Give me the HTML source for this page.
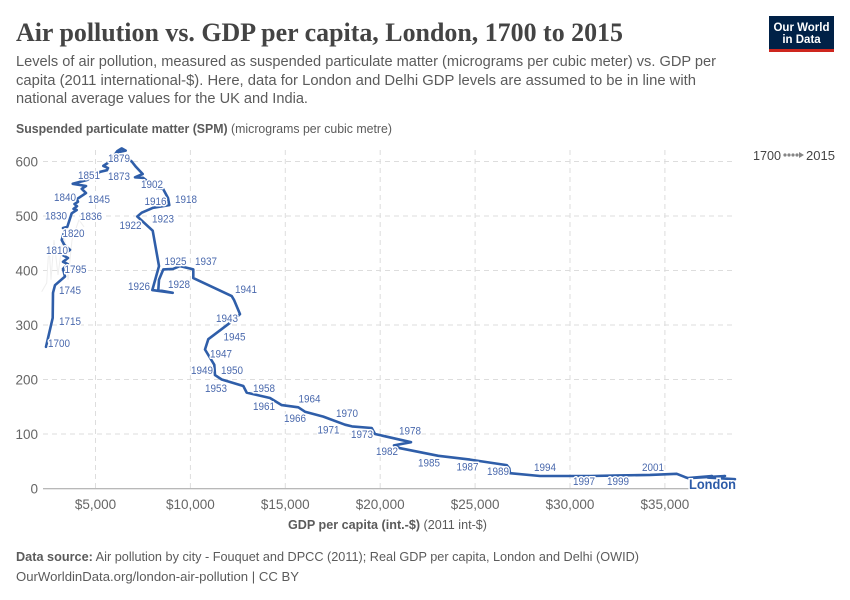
<!DOCTYPE html>
<html lang="en">
<head>
<meta charset="utf-8">
<title>Air pollution vs. GDP per capita, London, 1700 to 2015</title>
<style>
html,body{margin:0;padding:0;background:#fff;width:850px;height:600px;overflow:hidden}
svg{display:block}
text{font-family:"Liberation Sans",sans-serif}
.year-label{font-size:11.2px;fill:#4a69ad;stroke:#fff;stroke-width:3px;paint-order:stroke;stroke-linejoin:round}
.tick{font-size:13.5px;fill:#666}
</style>
</head>
<body>
<svg id="chart" xmlns="http://www.w3.org/2000/svg" width="850" height="600" viewBox="0 0 850 600">
  <text x="16" y="41" font-size="26" font-weight="700" fill="#444" textLength="607" lengthAdjust="spacingAndGlyphs" style="font-family:'Liberation Serif',serif">Air pollution vs. GDP per capita, London, 1700 to 2015</text>
  <g font-size="14.5" fill="#5b5b5b">
    <text x="16" y="66" textLength="700" lengthAdjust="spacingAndGlyphs">Levels of air pollution, measured as suspended particulate matter (micrograms per cubic meter) vs. GDP per</text>
    <text x="16" y="85" textLength="680" lengthAdjust="spacingAndGlyphs">capita (2011 international-$). Here, data for London and Delhi GDP levels are assumed to be in line with</text>
    <text x="16" y="103" textLength="292" lengthAdjust="spacingAndGlyphs">national average values for the UK and India.</text>
  </g>
  <g>
    <rect x="769" y="16" width="65" height="33" fill="#002147"/>
    <rect x="769" y="49" width="65" height="3" fill="#ce261e"/>
    <text x="801.5" y="31" font-size="11.5" font-weight="700" fill="#fff" text-anchor="middle">Our World</text>
    <text x="801.5" y="43" font-size="11.5" font-weight="700" fill="#fff" text-anchor="middle">in Data</text>
  </g>
  <text x="16" y="133" font-size="12.5" fill="#5b5b5b" textLength="376" lengthAdjust="spacingAndGlyphs"><tspan font-weight="700">Suspended particulate matter (SPM)</tspan> (micrograms per cubic metre)</text>
  <text x="288" y="529" font-size="12.5" fill="#5b5b5b" textLength="199" lengthAdjust="spacingAndGlyphs"><tspan font-weight="700">GDP per capita (int.-$)</tspan> (2011 int-$)</text>
  <g id="grid"></g>
  <g id="yticks"></g>
  <g id="xticks"></g>
  <line x1="43" x2="736" y1="488.7" y2="488.7" stroke="#a1a1a1" stroke-width="1"/>
  <g id="marks"></g>
  <g id="labels"></g>
  <text x="689" y="489" font-size="13.5" font-weight="700" fill="#2c5ba8" stroke="#fff" stroke-width="3" paint-order="stroke" textLength="47" lengthAdjust="spacingAndGlyphs">London</text>
  <g>
    <text x="753" y="160" font-size="13" fill="#444" textLength="28" lengthAdjust="spacingAndGlyphs">1700</text>
    <g fill="#858585">
      <circle cx="785" cy="155" r="1.6"/><circle cx="789" cy="155" r="1.6"/><circle cx="793" cy="155" r="1.6"/><circle cx="797" cy="155" r="1.6"/>
      <polygon points="799,152 804,155 799,158"/>
    </g>
    <text x="806" y="160" font-size="13" fill="#444" textLength="29" lengthAdjust="spacingAndGlyphs">2015</text>
  </g>
  <text x="16" y="561" font-size="13" fill="#5b5b5b" textLength="623" lengthAdjust="spacingAndGlyphs"><tspan font-weight="700">Data source:</tspan> Air pollution by city - Fouquet and DPCC (2011); Real GDP per capita, London and Delhi (OWID)</text>
  <text x="16" y="581" font-size="13" fill="#5b5b5b" textLength="283" lengthAdjust="spacingAndGlyphs">OurWorldinData.org/london-air-pollution | CC BY</text>
</svg>
<script>
const years = [1700,1715,1745,1760,1785,1795,1797,1799,1801,1803,1810,1816,1818,1820,1821,1822,1830,1833,1834,1835,1836,1838,1840,1842,1844,1845,1847,1849,1851,1855,1858,1860,1862,1870,1872,1873,1875,1879,1885,1890,1893,1895,1902,1905,1910,1916,1918,1920,1922,1923,1925,1926,1927,1928,1929,1930,1933,1935,1937,1938,1941,1942,1943,1944,1945,1947,1949,1950,1953,1957,1958,1961,1963,1964,1966,1968,1970,1971,1973,1974,1978,1980,1982,1985,1987,1989,1990,1991,1994,1997,1999,2001,2003,2005,2006,2008,2009,2011,2013,2015];
const gdpLondon = [2392,2745,2761,2866,3393,3288,3535,3288,3551,3288,3656,3356,3219,3393,3288,3514,3746,4009,3841,4025,3894,4078,4025,4499,4273,4499,3799,4552,5237,5606,5659,5411,5727,6149,6380,6591,6186,6907,7134,7487,7081,7503,8225,8557,8820,8889,8030,7434,7202,8014,8346,7993,9068,8309,8346,8572,9083,9452,10153,10153,12176,12298,12614,12087,10943,10770,11260,11297,11649,12788,12967,14194,14811,15686,16039,17003,18146,18515,19553,19727,21624,20728,21044,23062,24733,26666,26803,26840,28421,31055,32636,34217,35623,36061,36219,37483,36324,38168,37273,38695];
const spmLondon = [260,313,359,373,389,403,412,416,423,428,438,447,456,476,478,480,505,511,513,518,522,526,531,542,550,555,559,566,581,584,588,592,599,619,624,620,617,600,590,577,571,570,551,550,533,520,515,506,499,473,408,364,359,364,383,402,403,408,402,386,353,346,320,304,274,255,227,208,200,188,176,166,153,149,141,132,117,114,111,100,85,79,74,60,53,43,37,28,23,23,24,25,27,21,19,23,19,23,20,17];
const gdpDelhi = [2165,2429,2550,2655,2813,3024,3340,3551,3762,4131,4394];
const spmDelhi = [361,377,447,383,456,392,474,383,456,493,480];
const labelYears = [1700,1715,1745,1795,1810,1820,1830,1836,1840,1845,1851,1873,1879,1902,1916,1918,1922,1923,1925,1926,1928,1937,1941,1943,1945,1947,1949,1950,1953,1958,1961,1964,1966,1970,1971,1973,1978,1982,1985,1987,1989,1994,1997,1999,2001];
const yTickValues = [0,100,200,300,400,500,600];
const xTickValues = [5000,10000,15000,20000,25000,30000,35000];

/* label placement relative to each labelled point (layout, not data) */
const labelNudge = {1700:[13,-4],1715:[17.3,3],1745:[17,-3],1795:[12.5,0],1810:[-13,0],1820:[8.5,4],1830:[-15.7,2.2],1836:[16.5,12],1840:[-12,-2],1845:[13,13],1851:[-11,3],1873:[-6.7,25.5],1879:[-12.7,-3.7],1902:[-4.7,-4.3],1916:[-13.8,-4.3],1918:[33,-9],1922:[-6.8,8.3],1923:[10.3,-12.2],1925:[16.5,-5],1926:[-13.3,-4],1928:[20.7,-6],1937:[12.7,-8.3],1941:[14.3,-7],1943:[-13,4],1945:[26.2,-2.8],1947:[16,4.2],1949:[-12.3,5],1950:[17,-5],1953:[-5.7,8.7],1958:[17.3,-4.7],1961:[-6,8.2],1964:[11.2,-8.8],1966:[-10,6.3],1970:[2,-11.5],1971:[-23.5,3.2],1973:[-9.7,6],1978:[-1,-11.8],1982:[-13,2.7],1985:[-9.3,6.8],1987:[-2.5,7],1989:[-8.7,6],1994:[5,-9.2],1997:[-6,5],1999:[-2,5.7],2001:[3,-8]};

const NS = 'http://www.w3.org/2000/svg';
const xScale = v => 95.5 + (v - 5000) * 0.01898;
const yScale = v => 488.5 - v * 0.545;
const make = (tag, parent, attrs) => {
  const el = document.createElementNS(NS, tag);
  for (const k in attrs) el.setAttribute(k, attrs[k]);
  parent.appendChild(el);
  return el;
};
const grid = document.getElementById('grid');
const yticks = document.getElementById('yticks');
const xticks = document.getElementById('xticks');
const marks = document.getElementById('marks');
const labels = document.getElementById('labels');

yTickValues.forEach(v => {
  if (v > 0) {
    const g = make('line', grid, {x1: 43, x2: 736, y1: yScale(v), y2: yScale(v), stroke: '#dddddd', 'stroke-dasharray': '5 4'});
    
    
  }
  const t = make('text', yticks, {x: 38, y: yScale(v) + 5, 'text-anchor': 'end', class: 'tick'});
  t.textContent = String(v);
  
  
});
xTickValues.forEach(v => {
  const g = make('line', grid, {x1: xScale(v), x2: xScale(v), y1: 150, y2: 488, stroke: '#dddddd', 'stroke-dasharray': '5 4'});
  
  
  const t = make('text', xticks, {x: xScale(v), y: 509, 'text-anchor': 'middle', class: 'tick'});
  t.textContent = '$' + v.toLocaleString('en-US');
  
  
});

const toPoints = (xs, ys) => xs.map((x, i) => xScale(x).toFixed(1) + ',' + yScale(ys[i]).toFixed(1)).join(' ');
const delhi = make('polyline', marks, {points: toPoints(gdpDelhi, spmDelhi), fill: 'none', stroke: '#eeeeee', 'stroke-width': 1});


const london = make('polyline', marks, {points: toPoints(gdpLondon, spmLondon), fill: 'none', stroke: '#2f5ea9', 'stroke-width': 2.6, 'stroke-linejoin': 'round', 'stroke-linecap': 'round'});



labelYears.forEach(y => {
  const i = years.indexOf(y);
  const n = labelNudge[y] || [0, -8];
  const t = make('text', labels, {x: xScale(gdpLondon[i]) + n[0], y: yScale(spmLondon[i]) + n[1] + 4, 'text-anchor': 'middle', class: 'year-label', textLength: 22, lengthAdjust: 'spacingAndGlyphs'});
  t.textContent = String(y);
  
  
});
</script>
</body>
</html>
